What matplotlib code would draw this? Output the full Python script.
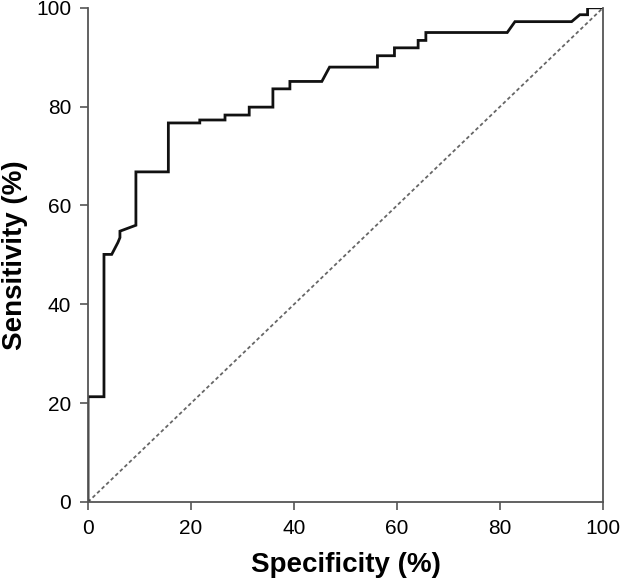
import matplotlib.pyplot as plt

# ROC curve vertices
spec = [0, 0, 3.1, 3.1, 4.6, 5.8, 6.2, 6.2, 9.3, 9.3, 15.6, 15.6, 21.7, 21.7,
        26.6, 26.6, 31.3, 31.3, 35.9, 35.9, 39.2, 39.2, 45.4, 46.9, 56.2, 56.2,
        59.5, 59.5, 64.1, 64.1, 65.6, 65.6, 81.4, 82.9, 93.9, 95.5, 97.0, 97.0, 100]
sens = [0, 21.3, 21.3, 50.1, 50.1, 52.5, 53.5, 54.8, 56.0, 66.8, 66.8, 76.7, 76.7, 77.3,
        77.3, 78.3, 78.3, 79.9, 79.9, 83.6, 83.6, 85.1, 85.1, 88.0, 88.0, 90.3,
        90.3, 91.9, 91.9, 93.4, 93.4, 95.0, 95.0, 97.2, 97.2, 98.6, 98.6, 100, 100]
ticks = [0, 20, 40, 60, 80, 100]

plt.rcParams['font.family'] = ['Liberation Sans', 'DejaVu Sans']

fig = plt.figure(figsize=(6.22, 5.78), dpi=100)
ax = fig.add_axes([0.1415, 0.1315, 0.828, 0.855])

ax.plot([0, 100], [0, 100], color='#666666', linestyle=(0, (2, 1.5)), linewidth=1.3)
ax.plot(spec, sens, color='#111111', linewidth=2.0, solid_joinstyle='miter')

ax.set_xlim(0, 100)
ax.set_ylim(0, 100)
ax.set_xticks(ticks)
ax.set_yticks(ticks)
ax.tick_params(labelsize=15, length=6, width=1.2, color='#555555', pad=6)

for side in ['left', 'bottom', 'right']:
    ax.spines[side].set_color('#555555')
    ax.spines[side].set_linewidth(1.3)
ax.spines['top'].set_visible(False)

ax.set_xlabel('Specificity (%)', fontsize=20, fontweight='bold', labelpad=10)
ax.set_ylabel('Sensitivity (%)', fontsize=20, fontweight='bold', labelpad=6)

plt.savefig('out.png', dpi=100)
